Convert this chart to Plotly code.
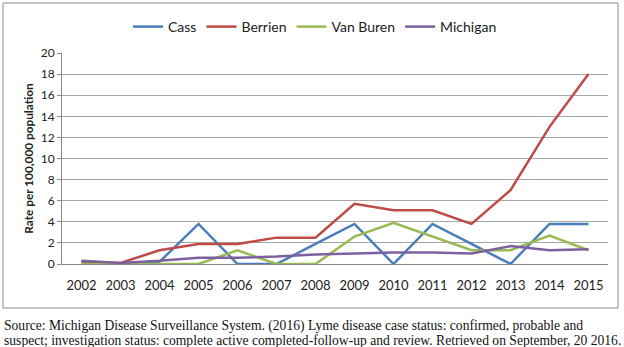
import plotly.graph_objects as go

years = ["2002", "2003", "2004", "2005", "2006", "2007", "2008",
         "2009", "2010", "2011", "2012", "2013", "2014", "2015"]
cass = [0.2, 0.0, 0.2, 3.8, 0.0, 0.0, 1.9, 3.8, 0.0, 3.8, 1.9, 0.0, 3.8, 3.8]
berrien = [0.2, 0.1, 1.3, 1.9, 1.9, 2.5, 2.5, 5.7, 5.1, 5.1, 3.8, 7.0, 13.0, 18.0]
van_buren = [0.0, 0.0, 0.0, 0.0, 1.3, 0.0, 0.0, 2.6, 3.9, 2.6, 1.3, 1.3, 2.7, 1.3]
michigan = [0.3, 0.1, 0.3, 0.6, 0.6, 0.7, 0.9, 1.0, 1.1, 1.1, 1.0, 1.7, 1.3, 1.4]

series = [
    ("Cass", cass, "#4A7EBB"),
    ("Berrien", berrien, "#BE4B48"),
    ("Van Buren", van_buren, "#98B954"),
    ("Michigan", michigan, "#7D60A0"),
]

fig = go.Figure()
for name, vals, color in series:
    fig.add_trace(go.Scatter(x=years, y=vals, name=name, mode="lines",
                             line=dict(color=color, width=2.5)))

W, H = 624, 347
L, R, T, B = 62, 16, 53, 83
pw, ph = W - L - R, H - T - B

def px(x):
    return (x - L) / pw

def py(y):
    return (H - B - y) / ph

fig.update_layout(
    width=W, height=H,
    margin=dict(l=L, r=R, t=T, b=B, autoexpand=False),
    paper_bgcolor="white", plot_bgcolor="white",
    font=dict(family="Lato, Liberation Sans, sans-serif", color="#222222", size=12),
    showlegend=True,
    legend=dict(orientation="h", x=px(315), xanchor="center", y=py(27), yanchor="middle",
                font=dict(size=14, color="#222222"), itemwidth=30,
                bgcolor="rgba(0,0,0,0)"),
    xaxis=dict(type="category", range=[-0.5, 13.5], showgrid=False,
               showline=True, linecolor="#888888", linewidth=1,
               ticks="", ticklabelstandoff=9, tickfont=dict(size=13, color="#222222"),
               fixedrange=True),
    yaxis=dict(range=[0, 20], dtick=2, showgrid=True, gridcolor="#A6A6A6",
               gridwidth=1, showline=True, linecolor="#888888", linewidth=1,
               ticks="outside", ticklen=4, tickcolor="#888888",
               tickfont=dict(size=12, color="#222222"), zeroline=False,
               title=dict(text="<b>Rate per 100,000 population</b>",
                          font=dict(size=11.8, color="#222222"), standoff=4),
               fixedrange=True),
)

# chart border
fig.add_shape(type="rect", xref="paper", yref="paper",
              x0=px(3), x1=px(618), y0=py(308), y1=py(3),
              line=dict(color="#8C8C8C", width=1), layer="below")

src1 = "Source: Michigan Disease Surveillance System. (2016) Lyme disease case status: confirmed, probable and"
src2 = "suspect; investigation status: complete active completed-follow-up and review. Retrieved on September, 20 2016."
for txt, yy in [(src1, 326), (src2, 340)]:
    fig.add_annotation(text=txt, xref="paper", yref="paper", x=px(2), y=py(yy),
                       xanchor="left", yanchor="middle", showarrow=False,
                       font=dict(family="Liberation Serif, Times New Roman, serif",
                                 size=13.6, color="#111111"))

fig.write_html("out.html", config={"displayModeBar": False},
               post_script="document.body.style.margin='0';document.body.style.padding='0';")
